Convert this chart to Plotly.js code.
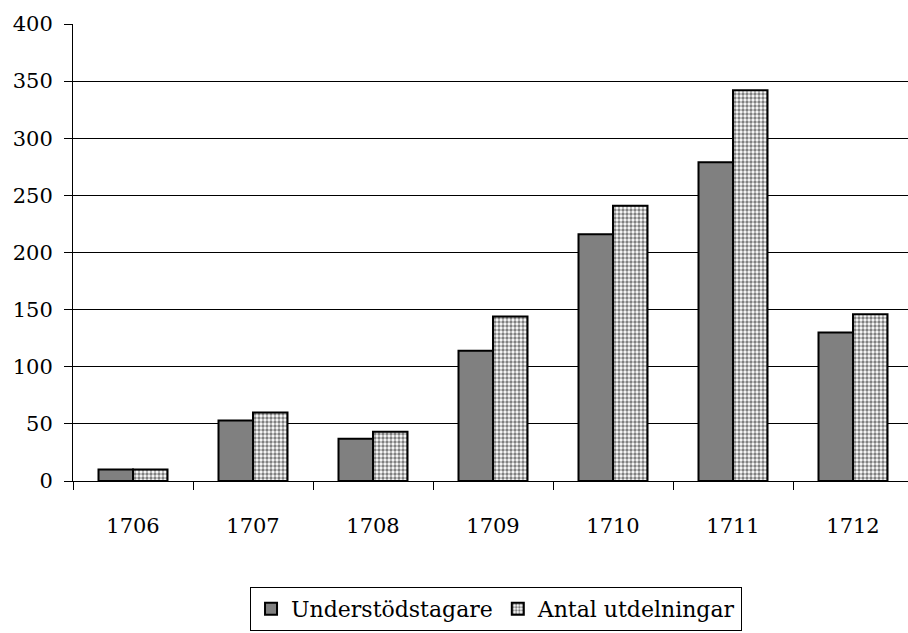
<!DOCTYPE html>
<html>
<head>
<meta charset="utf-8">
<script src="https://cdn.plot.ly/plotly-3.0.1.min.js"></script>
<style>html,body{margin:0;padding:0;overflow:hidden;background:#fff;}</style>
</head>
<body>
<div id="chart" style="width:920px;height:633px;"></div>
<script>
const years = ["1706", "1707", "1708", "1709", "1710", "1711", "1712"];
const understodstagare = [10, 53, 37, 114, 216, 279, 130];
const antalUtdelningar = [10, 60, 43, 144, 241, 342, 146];
const yTicks = [0, 50, 100, 150, 200, 250, 300, 350, 400];

const tickFont = {family: "DejaVu Serif, serif", size: 21, color: "#000"};
const legendFont = {family: "DejaVu Serif, serif", size: 22, color: "#000"};

const traces = [
  {
    type: "bar", name: "Understödstagare", x: years, y: understodstagare,
    marker: {color: "#808080", line: {color: "#000", width: 2}}
  },
  {
    type: "bar", name: "Antal utdelningar", x: years, y: antalUtdelningar,
    marker: {color: "#ffffff", line: {color: "#000", width: 2},
      pattern: {shape: ".", fgcolor: "#808080", bgcolor: "#ffffff", size: 4, solidity: 0.55}}
  }
];

const layout = {
  width: 920, height: 633,
  margin: {l: 73, r: 7, t: 24, b: 152, autoexpand: false},
  paper_bgcolor: "#fff", plot_bgcolor: "#fff",
  font: tickFont,
  barmode: "group", bargap: 0.425, bargroupgap: 0,
  showlegend: true,
  legend: {
    orientation: "h", x: 0.5036, xanchor: "center", y: -0.232, yanchor: "top",
    bordercolor: "#000", borderwidth: 1, font: legendFont, traceorder: "normal"
  },
  xaxis: {
    type: "category", showline: true, linecolor: "#000", linewidth: 1, automargin: false,
    ticks: "outside", tickson: "boundaries", ticklen: 8, tickcolor: "#000",
    ticklabelstandoff: 26, showgrid: false, tickfont: tickFont, zeroline: false
  },
  yaxis: {
    range: [0, 400], tickvals: yTicks, ticktext: yTicks.map(String), automargin: false,
    showline: true, linecolor: "#000", linewidth: 1,
    ticks: "outside", ticklen: 8, tickcolor: "#000", ticklabelstandoff: 7,
    showgrid: true, gridcolor: "#000", gridwidth: 1, zeroline: false, tickfont: tickFont
  }
};

Plotly.newPlot("chart", traces, layout, {displayModeBar: false, staticPlot: true});
</script>
</body>
</html>
